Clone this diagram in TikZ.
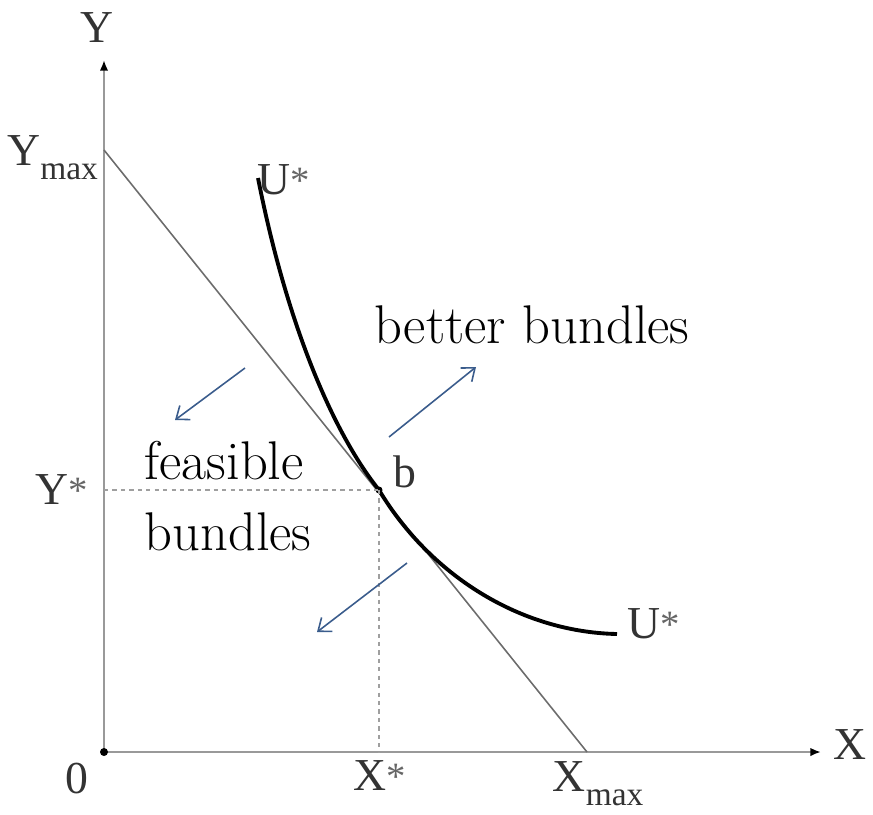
\documentclass[tikz,border=0pt]{standalone}
\usepackage{fontspec}
\newfontfamily\lblfont{Liberation Serif}
\usepackage{tikz}
\usetikzlibrary{arrows.meta, positioning, calc}
\definecolor{steelarrow}{RGB}{58,92,140}
\newcommand{\optstar}{\raisebox{0.5pt}{\fontsize{11}{11}\selectfont\textcolor{black!60}{*}}}
\newcommand{\maxsub}{\raisebox{-4pt}{\fontsize{9.5}{10}\selectfont max}}

\begin{document}
\begin{tikzpicture}[
    x=0.01cm, y=-0.01cm,
    axis/.style={draw=gray!80, line width=0.6pt, -{Latex[length=3pt, width=2.4pt, black]}},
    budget/.style={draw=gray!85!black, line width=0.45pt},
    indiff/.style={draw=black, line width=1.1pt},
    guide/.style={draw=gray!75, line width=0.45pt, dash pattern=on 1.2pt off 1.2pt},
    move/.style={->, >={Straight Barb[length=3.2pt, width=5pt]}, draw=steelarrow, line width=0.45pt},
    lbl/.style={font=\lblfont\fontsize{13}{15}\selectfont, text=black!80, inner sep=1pt},
    big/.style={font=\fontsize{15.5}{19}\selectfont, align=left, inner sep=0pt}
]
    \useasboundingbox (0,0) rectangle (873,814);

    % Axes
    \coordinate (O)    at (104,752);
    \coordinate (ytop) at (104,60);
    \coordinate (xend) at (821,752);
    \draw[axis] (O) -- (ytop);
    \draw[axis] (O) -- (xend);
    \fill (O) circle (4);

    \node[lbl] (ylab) at (97,28)  {Y};
    \node[lbl] (xlab) at (850,745) {X};
    \node[lbl] (zero) at (77,778) {0};

    % Budget line
    \coordinate (ymax) at (104,150);
    \coordinate (xmax) at (587,752);
    \draw[budget] (ymax) -- (xmax);
    \node[lbl, anchor=east] (ymaxlab) at (102,158) {Y\maxsub};
    \node[lbl] (xmaxlab) at (598,784) {X\maxsub};

    % Indifference curve U*
    \coordinate (u1) at (258,178);
    \coordinate (b)  at (379,490);
    \coordinate (u2) at (617,634);
    \draw[indiff] (u1) .. controls (288,330) and (335,435) .. (b)
                       .. controls (430,575) and (520,632) .. (u2);
    \fill (b) circle (3.5);
    \node[lbl] (utop) at (284,180) {U\optstar};
    \node[lbl] (ubot) at (654,624) {U\optstar};
    \node[lbl] (blab) at (405,472) {b};

    % Optimum guides
    \coordinate (ystar) at (O |- b);
    \coordinate (xstar) at (b |- O);
    \draw[guide] (ystar) -- (b);
    \draw[guide] (b) -- (xstar);
    \node[lbl] (ystarlab) at (62,490) {Y\optstar};
    \node[lbl] (xstarlab) at (380,776) {X\optstar};

    % Regions
    \node[big, anchor=west] (better) at (374,325) {better bundles};
    \node[big, anchor=west] (feas) at (144,496) {feasible\\[1pt]bundles};

    \coordinate (a1s) at (245,368);
    \coordinate (a1e) at (175,420);
    \coordinate (a2s) at (389,437);
    \coordinate (a2e) at (476,367);
    \coordinate (a3s) at (407,563);
    \coordinate (a3e) at (317,632);
    \draw[move] (a1s) -- (a1e);
    \draw[move] (a2s) -- (a2e);
    \draw[move] (a3s) -- (a3e);
\end{tikzpicture}
\end{document}
